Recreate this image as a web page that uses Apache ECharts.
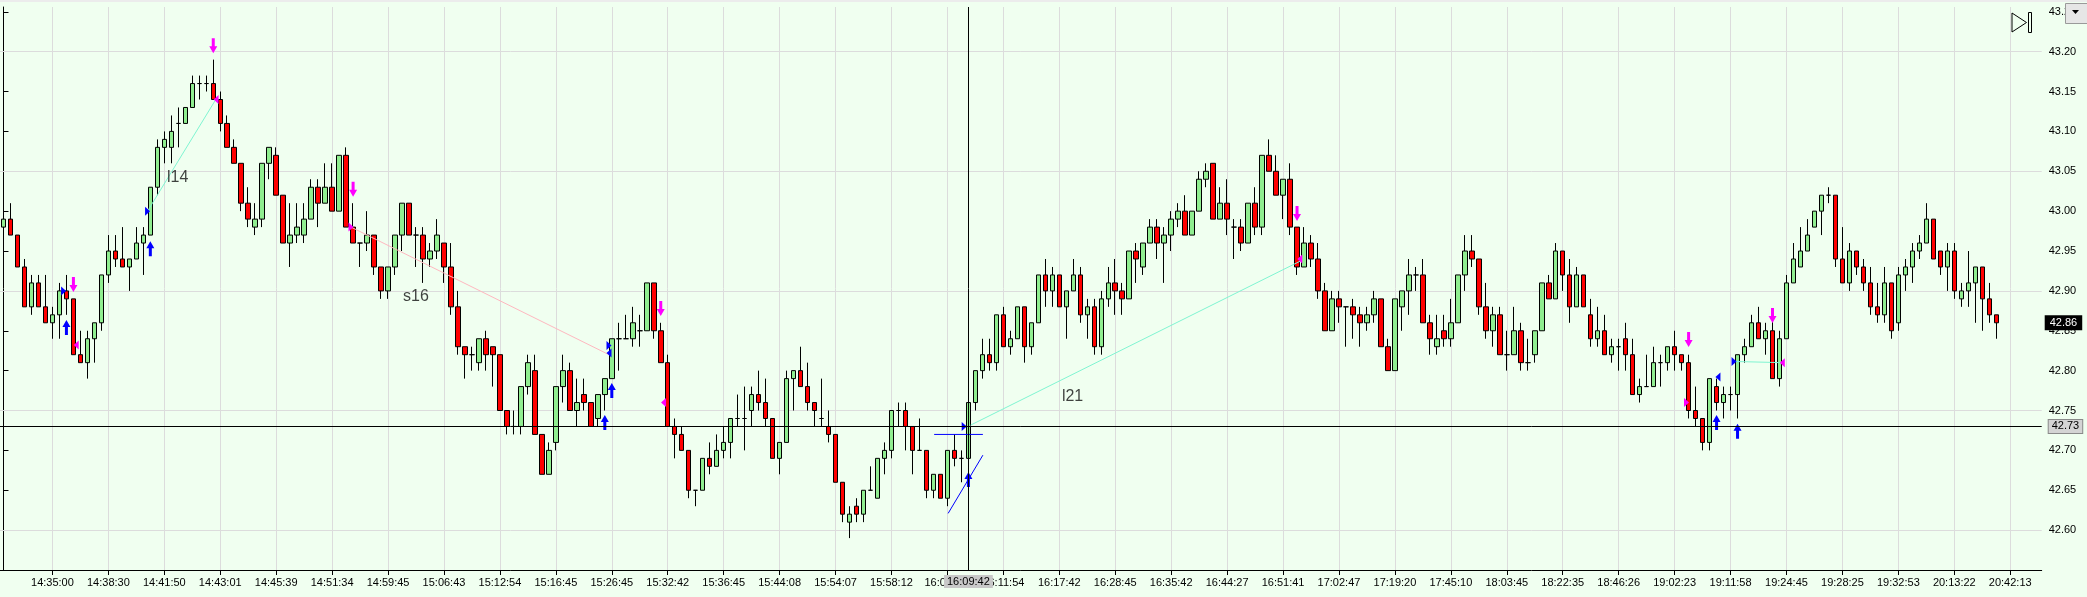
<!DOCTYPE html>
<html><head><meta charset="utf-8">
<script src="https://cdn.jsdelivr.net/npm/echarts/dist/echarts.min.js"></script>
<style>html,body{margin:0;padding:0;background:#f0fff0;}#chart{width:2087px;height:597px;}</style>
</head><body><div id="chart"></div>
<script>
// ---- candle values (one entry per bar, oldest first) ----
const opens = [
42.98,42.99,42.97,42.93,42.88,42.91,42.88,42.86,42.87,42.90,
42.89,42.82,42.81,42.84,42.86,42.92,42.95,42.94,42.93,42.94,
42.96,42.97,43.03,43.08,43.08,43.11,43.11,43.13,43.16,43.16,
43.16,43.14,43.11,43.08,43.06,43.01,42.98,42.99,43.06,43.07,
43.02,42.96,42.97,42.97,42.99,43.03,43.01,43.03,43.00,43.07,
42.98,42.96,42.96,42.97,42.93,42.90,42.93,42.97,43.01,42.97,
42.97,42.94,42.95,42.96,42.93,42.88,42.83,42.82,42.81,42.84,
42.83,42.82,42.75,42.73,42.73,42.78,42.80,42.72,42.67,42.71,
42.78,42.80,42.75,42.77,42.76,42.74,42.77,42.79,42.84,42.84,
42.84,42.85,42.85,42.91,42.85,42.81,42.73,42.72,42.70,42.65,
42.65,42.69,42.68,42.70,42.71,42.74,42.74,42.75,42.77,42.76,
42.74,42.69,42.71,42.79,42.80,42.78,42.76,42.74,42.73,42.72,
42.66,42.61,42.63,42.62,42.65,42.64,42.69,42.70,42.75,42.75,
42.73,42.70,42.70,42.65,42.67,42.64,42.70,42.69,42.69,42.76,
42.80,42.82,42.81,42.87,42.83,42.84,42.88,42.83,42.86,42.92,
42.90,42.92,42.88,42.90,42.92,42.87,42.88,42.83,42.89,42.91,
42.90,42.89,42.95,42.93,42.96,42.98,42.96,42.97,42.99,43.00,
42.97,43.00,43.04,43.06,42.99,43.01,42.98,42.98,42.96,43.01,
42.98,43.07,43.05,43.02,43.04,42.98,42.93,42.96,42.94,42.90,
42.85,42.89,42.88,42.88,42.87,42.86,42.87,42.89,42.83,42.80,
42.88,42.90,42.92,42.92,42.86,42.83,42.85,42.84,42.86,42.92,
42.95,42.94,42.88,42.85,42.87,42.82,42.82,42.85,42.81,42.82,
42.85,42.91,42.89,42.95,42.92,42.88,42.92,42.87,42.84,42.85,
42.82,42.83,42.84,42.82,42.77,42.78,42.78,42.81,42.81,42.83,
42.82,42.81,42.75,42.74,42.71,42.78,42.76,42.77,42.77,42.82,
42.83,42.86,42.84,42.85,42.79,42.84,42.91,42.93,42.95,42.98,
43.00,43.02,43.02,42.94,42.91,42.95,42.93,42.91,42.88,42.87,
42.91,42.86,42.92,42.93,42.95,42.96,42.99,42.95,42.93,42.95,
42.89,42.90,42.91,42.93,42.89,42.87];
const closes = [
42.99,42.97,42.93,42.88,42.91,42.88,42.86,42.87,42.90,42.89,
42.82,42.81,42.84,42.86,42.92,42.95,42.94,42.93,42.94,42.96,
42.97,43.03,43.08,43.09,43.10,43.11,43.13,43.16,43.16,43.16,
43.14,43.11,43.08,43.06,43.01,42.99,42.99,43.06,43.08,43.02,
42.96,42.97,42.98,42.99,43.03,43.01,43.03,43.00,43.07,42.98,
42.96,42.96,42.97,42.93,42.90,42.93,42.97,43.01,42.97,42.97,
42.94,42.95,42.97,42.93,42.88,42.83,42.82,42.82,42.84,42.82,
42.82,42.75,42.73,42.73,42.78,42.81,42.72,42.67,42.70,42.78,
42.80,42.75,42.76,42.76,42.73,42.77,42.79,42.84,42.84,42.84,
42.86,42.85,42.91,42.85,42.81,42.73,42.72,42.70,42.65,42.65,
42.69,42.68,42.70,42.71,42.74,42.74,42.74,42.77,42.76,42.74,
42.69,42.71,42.79,42.80,42.78,42.76,42.75,42.74,42.72,42.66,
42.62,42.62,42.62,42.65,42.65,42.69,42.70,42.75,42.75,42.73,
42.70,42.70,42.65,42.67,42.64,42.70,42.69,42.69,42.76,42.80,
42.82,42.81,42.87,42.83,42.84,42.88,42.83,42.86,42.92,42.90,
42.92,42.88,42.90,42.92,42.87,42.88,42.83,42.89,42.91,42.90,
42.89,42.95,42.94,42.96,42.98,42.96,42.97,42.99,43.00,42.97,
43.00,43.04,43.05,42.99,43.01,42.99,42.98,42.96,43.01,42.98,
43.07,43.05,43.02,43.04,42.98,42.93,42.96,42.94,42.90,42.85,
42.89,42.88,42.88,42.87,42.86,42.87,42.89,42.83,42.80,42.89,
42.90,42.92,42.92,42.86,42.84,42.84,42.84,42.86,42.92,42.95,
42.94,42.88,42.85,42.87,42.82,42.82,42.85,42.81,42.81,42.85,
42.91,42.89,42.95,42.92,42.88,42.92,42.88,42.84,42.85,42.82,
42.83,42.83,42.82,42.77,42.78,42.78,42.81,42.81,42.83,42.82,
42.81,42.75,42.74,42.71,42.79,42.76,42.77,42.77,42.82,42.83,
42.86,42.84,42.85,42.79,42.84,42.91,42.94,42.95,42.97,43.00,
43.02,43.02,42.94,42.91,42.95,42.93,42.91,42.88,42.87,42.91,
42.85,42.92,42.93,42.95,42.96,42.99,42.94,42.93,42.95,42.90,
42.90,42.91,42.93,42.89,42.87,42.86];
const lows = [
42.97,42.97,42.93,42.88,42.87,42.88,42.86,42.84,42.84,42.87,
42.82,42.81,42.79,42.81,42.85,42.91,42.93,42.93,42.90,42.94,
42.92,42.97,43.02,43.06,43.06,43.08,43.11,43.13,43.14,43.15,
43.14,43.10,43.08,43.06,43.00,42.98,42.97,42.98,43.04,43.02,
42.96,42.93,42.96,42.96,42.99,42.98,43.01,43.00,43.00,42.98,
42.96,42.93,42.95,42.92,42.89,42.89,42.92,42.95,42.97,42.93,
42.91,42.93,42.94,42.91,42.87,42.82,42.79,42.80,42.80,42.80,
42.78,42.75,42.72,42.72,42.72,42.77,42.72,42.67,42.67,42.70,
42.76,42.75,42.73,42.75,42.73,42.73,42.75,42.79,42.80,42.84,
42.83,42.83,42.85,42.84,42.81,42.73,42.69,42.70,42.64,42.63,
42.65,42.67,42.68,42.69,42.69,42.73,42.70,42.73,42.75,42.73,
42.69,42.67,42.71,42.75,42.78,42.75,42.73,42.73,42.71,42.66,
42.61,42.59,42.61,42.61,42.65,42.64,42.67,42.69,42.73,42.70,
42.67,42.70,42.64,42.64,42.64,42.63,42.68,42.66,42.69,42.75,
42.79,42.80,42.80,42.83,42.82,42.84,42.81,42.82,42.86,42.88,
42.88,42.88,42.84,42.90,42.86,42.84,42.82,42.82,42.88,42.87,
42.87,42.89,42.91,42.92,42.96,42.94,42.91,42.95,42.98,42.97,
42.97,43.00,43.03,42.99,42.99,42.97,42.94,42.95,42.96,42.97,
42.97,43.05,43.02,42.99,42.97,42.92,42.93,42.93,42.89,42.85,
42.85,42.86,42.83,42.84,42.83,42.85,42.86,42.83,42.80,42.80,
42.85,42.87,42.90,42.86,42.82,42.82,42.83,42.83,42.86,42.90,
42.93,42.87,42.84,42.83,42.82,42.80,42.82,42.80,42.80,42.81,
42.85,42.89,42.89,42.90,42.86,42.88,42.88,42.83,42.83,42.82,
42.81,42.80,42.80,42.77,42.76,42.78,42.78,42.78,42.80,42.80,
42.80,42.74,42.73,42.70,42.70,42.75,42.74,42.75,42.74,42.81,
42.83,42.84,42.82,42.79,42.78,42.84,42.91,42.93,42.95,42.98,
42.97,43.01,42.93,42.91,42.90,42.92,42.90,42.87,42.86,42.86,
42.84,42.85,42.90,42.91,42.94,42.96,42.94,42.92,42.90,42.89,
42.88,42.88,42.86,42.85,42.86,42.84];
const highs = [
43.00,43.01,42.97,42.94,42.92,42.92,42.92,42.88,42.91,42.92,
42.89,42.85,42.85,42.86,42.92,42.97,42.97,42.98,42.94,42.98,
42.98,43.03,43.09,43.10,43.12,43.13,43.13,43.17,43.17,43.17,
43.19,43.15,43.12,43.09,43.06,43.03,43.01,43.06,43.08,43.08,
43.02,43.01,43.01,43.01,43.04,43.04,43.06,43.06,43.07,43.08,
43.01,42.96,43.00,42.97,42.93,42.93,42.97,43.01,43.01,42.98,
42.98,42.96,42.99,42.96,42.96,42.90,42.83,42.83,42.84,42.85,
42.83,42.82,42.75,42.75,42.78,42.82,42.82,42.72,42.71,42.78,
42.82,42.81,42.79,42.79,42.76,42.77,42.79,42.84,42.86,42.87,
42.88,42.87,42.91,42.91,42.86,42.82,42.74,42.73,42.70,42.65,
42.69,42.71,42.72,42.73,42.74,42.77,42.78,42.78,42.80,42.79,
42.74,42.71,42.80,42.80,42.83,42.81,42.76,42.79,42.75,42.72,
42.66,42.63,42.64,42.65,42.68,42.69,42.71,42.75,42.76,42.76,
42.73,42.74,42.70,42.67,42.67,42.70,42.72,42.70,42.76,42.80,
42.84,42.84,42.87,42.88,42.85,42.88,42.88,42.86,42.92,42.94,
42.93,42.92,42.90,42.94,42.93,42.89,42.89,42.90,42.93,42.94,
42.91,42.95,42.96,42.96,42.99,42.99,42.98,43.00,43.01,43.02,
43.00,43.05,43.06,43.06,43.03,43.04,42.99,42.99,43.01,43.03,
43.07,43.09,43.07,43.04,43.06,42.98,42.98,42.97,42.96,42.91,
42.90,42.90,42.88,42.89,42.88,42.88,42.90,42.89,42.84,42.89,
42.90,42.94,42.93,42.94,42.87,42.87,42.87,42.89,42.92,42.97,
42.97,42.94,42.91,42.88,42.88,42.85,42.88,42.86,42.84,42.85,
42.91,42.92,42.96,42.95,42.94,42.93,42.92,42.89,42.88,42.87,
42.84,42.84,42.86,42.84,42.79,42.82,42.83,42.82,42.83,42.85,
42.82,42.82,42.78,42.74,42.79,42.79,42.78,42.78,42.82,42.84,
42.87,42.88,42.86,42.87,42.85,42.92,42.96,42.98,42.99,43.00,
43.02,43.03,43.02,42.98,42.96,42.95,42.94,42.93,42.91,42.93,
42.91,42.93,42.94,42.96,42.97,43.01,42.99,42.95,42.96,42.96,
42.91,42.95,42.93,42.93,42.91,42.87];

// ---- time axis labels (every 8th slot, starting at slot 7) ----
const labelTimes = ['14:35:00','14:38:30','14:41:50','14:43:01','14:45:39','14:51:34','14:59:45','15:06:43',
 '15:12:54','15:16:45','15:26:45','15:32:42','15:36:45','15:44:08','15:54:07','15:58:12',
 '16:0\u2007\u2007\u2007\u2007','16:11:54','16:17:42','16:28:45','16:35:42','16:44:27','16:51:41','17:02:47',
 '17:19:20','17:45:10','18:03:45','18:22:35','18:46:26','19:02:23','19:11:58','19:24:45',
 '19:28:25','19:32:53','20:13:22','20:42:13'];
const firstLabelSlot = 7, labelStep = 8, slotCount = 292;

// ---- price axis ----
const priceTicks = {min: 42.55, max: 43.256, step: 0.05};
const gridPrices = [42.60, 42.75, 42.90, 43.05, 43.20];

// ---- crosshair / price tags ----
const crossSlot = 138, crossTime = '16:09:42', crossPrice = 42.7275, crossPriceText = '42.73';
const lastPrice = 42.86;

// ---- signal markers: [slot position, price] ----
const magentaDownArrows = [[30,43.2075],[10,42.908],[50,43.0275],[94,42.878],[185,42.997],[241,42.839],[253,42.869]];
const blueUpArrows = [[21,42.953],[9,42.854],[86,42.735],[87,42.775],[138,42.6635],[245,42.735],[248,42.724]];
const blueRightTris = [[8.6,42.90],[20.6,43.00],[86.6,42.8315],[137.4,42.73],[247.5,42.8115]];
const blueLeftTris = [[86.6,42.822],[245.2,42.792]];
const magentaLeftTris = [[10.4,42.832],[30.4,43.14],[94.4,42.76],[185.4,42.94],[254.4,42.81]];
const magentaRightTris = [[49.7,42.98],[240.7,42.76]];
const tradeLinesLong = [
  [[20.6,43.00],[30.4,43.1405]],
  [[138.3,42.7316],[185.5,42.9375]],
  [[247.5,42.8115],[254.4,42.81]]
];
const tradeLinesShort = [[[49.7,42.98],[86.6,42.82]]];
const blueDrawnLines = [
  [[133.1,42.72],[140.07,42.72]],
  [[135.1,42.621],[140.07,42.694]]
];
const tradeLabels = [[24.9,43.042,'l14'],[58.99,42.893,'s16'],[152.9,42.767,'l21']];

// ---- build ----
const FONT = "'Liberation Sans', Arial, sans-serif";
const categories = Array.from({length: slotCount}, (_, i) =>
  (i >= firstLabelSlot && (i - firstLabelSlot) % labelStep === 0 && labelTimes[(i - firstLabelSlot) / labelStep] !== undefined)
    ? labelTimes[(i - firstLabelSlot) / labelStep] : '');
const isLabelSlot = (i) => i >= firstLabelSlot && (i - firstLabelSlot) % labelStep === 0;
const labelSlots = categories.map((c, i) => i).filter(isLabelSlot);
const candleData = opens.map((o, i) => [o, closes[i], lows[i], highs[i]]);

const arrowDown = 'path://M2.5,0 L5.5,0 L5.5,8 L8,8 L4,15 L0,8 L2.5,8 Z';
const arrowUp = 'path://M4,0 L8,7 L5.5,7 L5.5,15 L2.5,15 L2.5,7 L0,7 Z';
const triRight = 'path://M0,0 L5,4.5 L0,9 Z';
const triLeft = 'path://M5,0 L0,4.5 L5,9 Z';

function markerSeries(points, symbol, size, color) {
  return {type: 'scatter', xAxisIndex: 1, yAxisIndex: 0, data: points, symbol: symbol,
    symbolSize: size, itemStyle: {color: color, opacity: 1}, z: 6, silent: true};
}
function segSeries(seg, color) {
  return {type: 'line', xAxisIndex: 1, yAxisIndex: 0, data: seg, symbol: 'none', showSymbol: false,
    lineStyle: {color: color, width: 1}, z: 4, silent: true};
}

const series = [
  { // grid lines
    type: 'line', data: [], xAxisIndex: 0, yAxisIndex: 0, z: 1, silent: true,
    markLine: {
      silent: true, symbol: ['none', 'none'], z: 1, animation: false,
      label: {show: false},
      lineStyle: {color: '#dcdcdc', width: 1, type: 'solid'},
      data: gridPrices.map(p => ({yAxis: p})).concat(labelSlots.map(i => ({xAxis: i})))
    }
  },
  {
    type: 'candlestick', name: 'price', data: candleData, xAxisIndex: 0, yAxisIndex: 0,
    barWidth: 5, z: 2, silent: true,
    itemStyle: {color: '#90ee90', color0: '#ff0000', borderColor: '#000', borderColor0: '#000',
      borderColorDoji: '#000', borderWidth: 1}
  }
];
tradeLinesLong.forEach(s => series.push(segSeries(s, '#80f5d2')));
tradeLinesShort.forEach(s => series.push(segSeries(s, '#ffb8c0')));
blueDrawnLines.forEach(s => series.push(segSeries(s, '#0000ff')));
series.push(markerSeries(magentaDownArrows, arrowDown, [8, 15], '#ff00ff'));
series.push(markerSeries(blueUpArrows, arrowUp, [8, 15], '#0000ff'));
series.push(markerSeries(blueRightTris, triRight, [5, 9], '#0000ff'));
series.push(markerSeries(blueLeftTris, triLeft, [5, 9], '#0000ff'));
series.push(markerSeries(magentaLeftTris, triLeft, [5, 9], '#ff00ff'));
series.push(markerSeries(magentaRightTris, triRight, [5, 9], '#ff00ff'));
series.push({
  type: 'scatter', xAxisIndex: 1, yAxisIndex: 0, data: tradeLabels, symbolSize: 1,
  itemStyle: {color: 'rgba(0,0,0,0)'}, z: 6, silent: true,
  label: {show: true, position: 'inside', formatter: p => p.value[2], fontSize: 16,
    fontFamily: FONT, color: '#111'}
});
series.push({ // crosshair and price tags
  type: 'line', data: [], xAxisIndex: 0, yAxisIndex: 0, z: 5, silent: true,
  markLine: {
    silent: true, symbol: ['none', 'none'], z: 7, animation: false,
    lineStyle: {color: '#000', width: 1, type: 'solid'},
    data: [
      {xAxis: crossSlot, label: {show: true, position: 'start', distance: 5, formatter: crossTime,
        backgroundColor: '#c8c8c8', padding: [1, 3], color: '#000', fontSize: 11, fontFamily: FONT}},
      {yAxis: crossPrice, label: {show: true, position: 'end', distance: 7, formatter: crossPriceText,
        backgroundColor: '#d4d4d4', borderColor: '#8a8a8a', borderWidth: 1, padding: [1, 3],
        color: '#000', fontSize: 11, fontFamily: FONT}},
      {yAxis: lastPrice, lineStyle: {color: 'rgba(0,0,0,0)', width: 0}, label: {show: true, position: 'end', distance: 3,
        formatter: lastPrice.toFixed(2), backgroundColor: '#000', padding: [2, 5], color: '#fff',
        fontSize: 11, fontFamily: FONT}}
    ]
  }
});

const chart = echarts.init(document.getElementById('chart'), null, {renderer: 'canvas'});
chart.setOption({
  animation: false,
  backgroundColor: '#f0fff0',
  grid: {left: -1.19, right: 45.3, top: 7, bottom: 27},
  xAxis: [
    {
      type: 'category', data: categories, boundaryGap: true,
      axisLine: {show: true, lineStyle: {color: '#000', width: 1}},
      axisTick: {show: true, alignWithLabel: true, length: 5, interval: (i) => isLabelSlot(i),
        lineStyle: {color: '#000'}},
      axisLabel: {show: true, interval: (i) => isLabelSlot(i), fontSize: 11, color: '#000',
        fontFamily: FONT, margin: 7},
      splitLine: {show: false}
    },
    {type: 'value', min: -0.5, max: slotCount - 0.5, show: false}
  ],
  yAxis: {
    type: 'value', position: 'right', min: priceTicks.min, max: priceTicks.max, interval: priceTicks.step,
    axisLine: {show: true, lineStyle: {color: '#000', width: 1}},
    axisTick: {show: true, length: 5, lineStyle: {color: '#000'}},
    axisLabel: {show: true, fontSize: 11, color: '#000', fontFamily: FONT, margin: 7,
      showMinLabel: false, showMaxLabel: false, formatter: v => v.toFixed(2)},
    splitLine: {show: false}
  },
  series: series,
  graphic: [
    {type: 'rect', shape: {x: 0, y: 0, width: 2087, height: 2}, style: {fill: '#ececec'}, z: 100},
    {type: 'polygon', shape: {points: [[2012, 13], [2026.5, 22.5], [2012, 32]]},
      style: {fill: 'none', stroke: '#000', lineWidth: 1}, z: 100},
    {type: 'rect', shape: {x: 2028.5, y: 12.5, width: 3, height: 20},
      style: {fill: 'none', stroke: '#000', lineWidth: 1}, z: 100},
    {type: 'rect', shape: {x: 2065.5, y: 3.5, width: 22, height: 20},
      style: {fill: '#e6e6e6', stroke: '#9a9a9a', lineWidth: 1}, z: 100},
    {type: 'polygon', shape: {points: [[2072, 10], [2079, 10], [2075.5, 14]]}, style: {fill: '#000'}, z: 101}
  ]
});
</script>
</body></html>
